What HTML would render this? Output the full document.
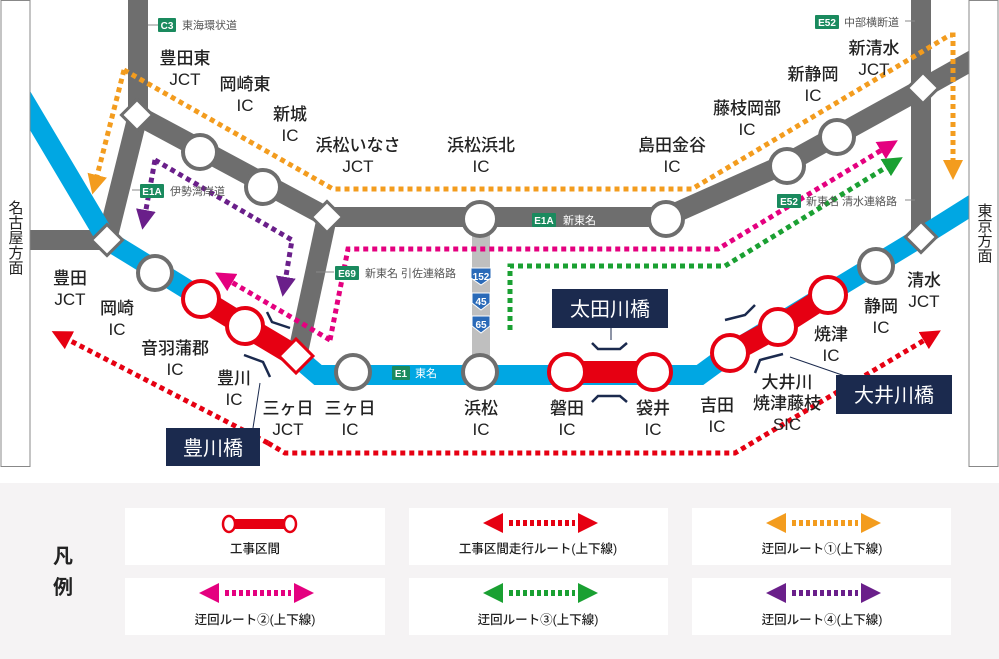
<!DOCTYPE html>
<html><head><meta charset="utf-8"><style>
html,body{margin:0;padding:0;background:#fff}
svg{display:block}
text{font-family:"Liberation Sans","Noto Sans CJK JP",sans-serif;fill:#222}
.l{font-size:17px;text-anchor:middle;font-weight:500}
.s{font-size:11px;fill:#555}
.g{font-size:10px;fill:#fff;font-weight:bold;text-anchor:middle}
.lg{font-size:12.5px;text-anchor:middle;fill:#333;font-weight:500}
</style></head><body>
<svg width="999" height="659" viewBox="0 0 999 659" xmlns="http://www.w3.org/2000/svg">
<defs>
<marker id="ao" markerWidth="4" markerHeight="4" refX="1" refY="2" orient="auto" markerUnits="strokeWidth"><path d="M0,0L4,2L0,4z" fill="#f39c1e"/></marker>
<marker id="ap" markerWidth="4" markerHeight="4" refX="1" refY="2" orient="auto" markerUnits="strokeWidth"><path d="M0,0L4,2L0,4z" fill="#6a1f8a"/></marker>
<marker id="am" markerWidth="4" markerHeight="4" refX="1" refY="2" orient="auto" markerUnits="strokeWidth"><path d="M0,0L4,2L0,4z" fill="#e4007f"/></marker>
<marker id="ag" markerWidth="4" markerHeight="4" refX="1" refY="2" orient="auto" markerUnits="strokeWidth"><path d="M0,0L4,2L0,4z" fill="#1aa032"/></marker>
<marker id="ar" markerWidth="4" markerHeight="4" refX="1" refY="2" orient="auto" markerUnits="strokeWidth"><path d="M0,0L4,2L0,4z" fill="#e60012"/></marker>
</defs>

<!-- grey roads -->
<g stroke="#6e6e6e" stroke-width="20" fill="none" stroke-linejoin="miter">
<path d="M138,0V115L107,240"/>
<path d="M20,240H107"/>
<path d="M137,115L327,217H666L787,163L923,88L980,56"/>
<path d="M921,0V237"/>
<path d="M327,217L297,357"/>
</g>
<path d="M481,219V372" stroke="#bfbfbf" stroke-width="18"/>
<!-- blue -->
<path d="M22,97L107,240L297,357L318,375H700L730,353L921,237L980,200" stroke="#00a7e3" stroke-width="20" fill="none" stroke-linejoin="miter"/>
<!-- side boxes on top -->
<rect x="1" y="0.5" width="29" height="466" fill="#fff" stroke="#888"/>
<rect x="969" y="0.5" width="29" height="466" fill="#fff" stroke="#888"/>
<text x="15" y="200" style="font-size:15px;writing-mode:tb" >名古屋方面</text>
<text x="984" y="203" style="font-size:15px;writing-mode:tb">東京方面</text>
<!-- red section -->
<path d="M201,299L245,326L297,357" stroke="#e60012" stroke-width="22"/>
<path d="M574,372H653" stroke="#e60012" stroke-width="22"/>
<path d="M730,353L778,327L828,295" stroke="#e60012" stroke-width="22"/>

<!-- dotted routes -->
<g fill="none" stroke-width="5" stroke-dasharray="5 4">
<path d="M124,70L96,180" stroke="#f39c1e" marker-end="url(#ao)"/>
<path d="M124,70L333,189H692L950,35L953,35V165" stroke="#f39c1e" marker-end="url(#ao)"/>
<path d="M155,160L145,215" stroke="#6a1f8a" marker-end="url(#ap)"/>
<path d="M155,160L292,240L285,282" stroke="#6a1f8a" marker-end="url(#ap)"/>
<path d="M330,340L228,280" stroke="#e4007f" marker-end="url(#am)"/>
<path d="M330,340L348,249H718L885,148" stroke="#e4007f" marker-end="url(#am)"/>
<path d="M510,330V266H725L890,165" stroke="#1aa032" marker-end="url(#ag)"/>
<path d="M268,443L65,338" stroke="#e60012" marker-end="url(#ar)"/>
<path d="M268,443L285,453H735L928,338" stroke="#e60012" marker-end="url(#ar)"/>
</g>

<!-- diamonds -->
<g fill="#fff" stroke="#6e6e6e" stroke-width="3">
<rect x="126" y="104" width="22" height="22" transform="rotate(45 137 115)"/>
<rect x="96" y="229" width="22" height="22" transform="rotate(45 107 240)"/>
<rect x="316" y="206" width="22" height="22" transform="rotate(45 327 217)"/>
<rect x="912" y="77" width="22" height="22" transform="rotate(45 923 88)"/>
<rect x="910" y="226" width="22" height="22" transform="rotate(45 921 237)"/>
</g>
<rect x="284" y="344" width="24" height="24" fill="#fff" stroke="#e60012" stroke-width="3" transform="rotate(45 296 356)"/>
<!-- grey circles -->
<g fill="#fff" stroke="#6e6e6e" stroke-width="4">
<circle cx="200" cy="152" r="17"/><circle cx="263" cy="187" r="17"/>
<circle cx="480" cy="219" r="17"/><circle cx="666" cy="219" r="17"/>
<circle cx="787" cy="166" r="17"/><circle cx="837" cy="137" r="17"/>
<circle cx="155" cy="273" r="17"/><circle cx="353" cy="372" r="17"/>
<circle cx="480" cy="372" r="17"/><circle cx="876" cy="266" r="17"/>
</g>
<g fill="#fff" stroke="#e60012" stroke-width="4">
<circle cx="201" cy="299" r="18"/><circle cx="245" cy="326" r="18"/>
<circle cx="567" cy="372" r="18"/><circle cx="653" cy="372" r="18"/>
<circle cx="730" cy="353" r="18"/><circle cx="778" cy="327" r="18"/><circle cx="828" cy="295" r="18"/>
</g>

<!-- route signs -->
<g stroke="#888" stroke-width="1"><path d="M148,25H158M132,190H140M316,272H334M905,21H915M905,200H915"/></g>
<rect x="158" y="18" width="18" height="14" fill="#1a8a5e" rx="1"/><text class="g" x="167" y="29">C3</text><text class="s" x="182" y="29">東海環状道</text>
<rect x="140" y="184" width="24" height="14" fill="#1a8a5e" rx="1"/><text class="g" x="152" y="195">E1A</text><text class="s" x="170" y="195">伊勢湾岸道</text>
<rect x="335" y="266" width="24" height="14" fill="#1a8a5e" rx="1"/><text class="g" x="347" y="277">E69</text><text class="s" x="365" y="277">新東名 引佐連絡路</text>
<rect x="532" y="213" width="24" height="14" fill="#1a8a5e" rx="1"/><text class="g" x="544" y="224">E1A</text><text class="s" x="563" y="224" style="fill:#fff">新東名</text>
<rect x="392" y="366" width="18" height="14" fill="#1a8a5e" rx="1"/><text class="g" x="401" y="377">E1</text><text class="s" x="415" y="377" style="fill:#fff">東名</text>
<rect x="815" y="15" width="24" height="14" fill="#1a8a5e" rx="1"/><text class="g" x="827" y="26">E52</text><text class="s" x="844" y="26">中部横断道</text>
<rect x="777" y="194" width="24" height="14" fill="#1a8a5e" rx="1"/><text class="g" x="789" y="205">E52</text><text class="s" x="806" y="205">新東名 清水連絡路</text>
<g fill="#2a6ab8" stroke="#fff" stroke-width="1">
<path d="M471,268H491V278L481,285L471,278Z"/><path d="M472,293H490V303L481,310L472,303Z"/><path d="M472,316H490V326L481,333L472,326Z"/></g>
<g class="g" style="font-size:9px"><text x="481" y="280" class="g">152</text><text x="481" y="305" class="g">45</text><text x="481" y="328" class="g">65</text></g>

<!-- bridge marks -->
<g fill="none" stroke="#1b2a4e" stroke-width="2.5">
<path d="M267,312L272,322L290,328"/><path d="M244,355L263,362L270,377"/>
<path d="M592,343L598,349H620L627,343"/><path d="M592,402L598,396H620L627,402"/>
<path d="M725,320L745,315L755,305"/><path d="M755,373L760,360L783,354"/>
</g>
<g stroke="#1b2a4e" stroke-width="1"><path d="M260,383L253,428M611,328V340M790,357L845,376"/></g>
<rect x="166" y="428" width="94" height="38" fill="#1b2a4e"/><text x="213" y="455" style="font-size:20px;fill:#fff;text-anchor:middle">豊川橋</text>
<rect x="552" y="289" width="116" height="39" fill="#1b2a4e"/><text x="610" y="316" style="font-size:20px;fill:#fff;text-anchor:middle">太田川橋</text>
<rect x="836" y="375" width="116" height="39" fill="#1b2a4e"/><text x="894" y="402" style="font-size:20px;fill:#fff;text-anchor:middle">大井川橋</text>

<!-- labels -->
<g class="l">
<text x="185" y="64">豊田東</text><text x="185" y="85">JCT</text>
<text x="245" y="90">岡崎東</text><text x="245" y="111">IC</text>
<text x="290" y="120">新城</text><text x="290" y="141">IC</text>
<text x="358" y="151">浜松いなさ</text><text x="358" y="172">JCT</text>
<text x="481" y="151">浜松浜北</text><text x="481" y="172">IC</text>
<text x="672" y="151">島田金谷</text><text x="672" y="172">IC</text>
<text x="747" y="114">藤枝岡部</text><text x="747" y="135">IC</text>
<text x="813" y="80">新静岡</text><text x="813" y="101">IC</text>
<text x="874" y="54">新清水</text><text x="874" y="75">JCT</text>
<text x="924" y="286">清水</text><text x="924" y="307">JCT</text>
<text x="881" y="312">静岡</text><text x="881" y="333">IC</text>
<text x="831" y="340">焼津</text><text x="831" y="361">IC</text>
<text x="787" y="388">大井川</text><text x="787" y="409">焼津藤枝</text><text x="787" y="430">SIC</text>
<text x="717" y="411">吉田</text><text x="717" y="432">IC</text>
<text x="653" y="414">袋井</text><text x="653" y="435">IC</text>
<text x="567" y="414">磐田</text><text x="567" y="435">IC</text>
<text x="481" y="414">浜松</text><text x="481" y="435">IC</text>
<text x="350" y="414">三ヶ日</text><text x="350" y="435">IC</text>
<text x="288" y="414">三ヶ日</text><text x="288" y="435">JCT</text>
<text x="234" y="384">豊川</text><text x="234" y="405">IC</text>
<text x="175" y="354">音羽蒲郡</text><text x="175" y="375">IC</text>
<text x="117" y="314">岡崎</text><text x="117" y="335">IC</text>
<text x="70" y="284">豊田</text><text x="70" y="305">JCT</text>
</g>

<!-- legend -->
<rect x="0" y="483" width="999" height="176" fill="#f5f3f4"/>
<text x="63" y="563" style="font-size:20px;font-weight:bold;text-anchor:middle">凡</text>
<text x="63" y="594" style="font-size:20px;font-weight:bold;text-anchor:middle">例</text>
<g fill="#fff"><rect x="125" y="508" width="260" height="57"/><rect x="409" y="508" width="259" height="57"/><rect x="692" y="508" width="259" height="57"/>
<rect x="125" y="578" width="260" height="57"/><rect x="409" y="578" width="259" height="57"/><rect x="692" y="578" width="259" height="57"/></g>
<path d="M223,524H296" stroke="#e60012" stroke-width="10"/>
<g fill="#fff" stroke="#e60012" stroke-width="2.5"><ellipse cx="229" cy="524" rx="6" ry="8"/><ellipse cx="290" cy="524" rx="6" ry="8"/></g>
<g stroke-width="6" stroke-dasharray="4 3">
<path d="M509,523H575" stroke="#e60012"/><path d="M792,523H858" stroke="#f39c1e"/>
<path d="M225,593H291" stroke="#e4007f"/><path d="M509,593H575" stroke="#1aa032"/><path d="M792,593H858" stroke="#6a1f8a"/>
</g>
<path d="M483,523l20,-10v20zM598,523l-20,-10v20z" fill="#e60012"/>
<path d="M766,523l20,-10v20zM881,523l-20,-10v20z" fill="#f39c1e"/>
<path d="M199,593l20,-10v20zM314,593l-20,-10v20z" fill="#e4007f"/>
<path d="M483,593l20,-10v20zM598,593l-20,-10v20z" fill="#1aa032"/>
<path d="M766,593l20,-10v20zM881,593l-20,-10v20z" fill="#6a1f8a"/>
<g class="lg">
<text x="255" y="553">工事区間</text><text x="538" y="553">工事区間走行ルート(上下線)</text><text x="822" y="553">迂回ルート①(上下線)</text>
<text x="255" y="624">迂回ルート②(上下線)</text><text x="538" y="624">迂回ルート③(上下線)</text><text x="822" y="624">迂回ルート④(上下線)</text>
</g>
</svg>
</body></html>
